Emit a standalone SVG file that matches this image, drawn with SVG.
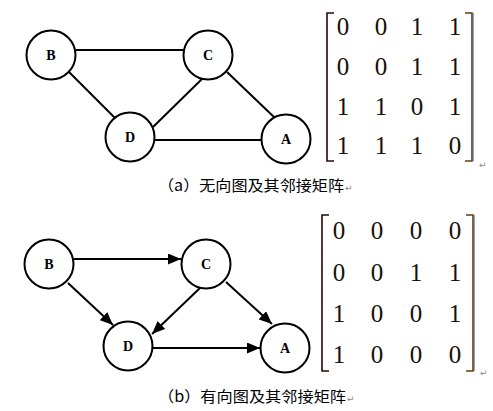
<svg xmlns="http://www.w3.org/2000/svg" width="493" height="411" viewBox="0 0 493 411">
<style>
.node circle{fill:#fff;stroke:#000;stroke-width:2}
.node text{font-family:"Liberation Serif",serif;font-weight:bold;font-size:14px;text-anchor:middle;dominant-baseline:central}
.edges line{stroke:#000;stroke-width:2}
.num{font-family:"Liberation Serif",serif;font-size:25px;fill:#1a1008;text-anchor:middle}
.cap{font-family:"Noto Sans CJK SC","Liberation Serif",sans-serif;font-size:15px;fill:#000}
.ret{font-family:"DejaVu Sans",sans-serif;font-size:9px;fill:#888}
.bl{fill:none;stroke:#2a0606;stroke-width:1.6}
.br{fill:none;stroke:#6a3a08;stroke-width:1.6}
</style>
<defs>
<marker id="ah" markerWidth="13" markerHeight="11" refX="13" refY="5.5" orient="auto" markerUnits="userSpaceOnUse">
<path d="M0,0 L13,5.5 L0,11 Z" fill="#000"/>
</marker>
</defs>
<!-- Graph (a) -->
<g class="edges" id="edges-a">
<line x1="76" y1="50" x2="184" y2="50"/>
<line x1="68" y1="71" x2="115" y2="118"/>
<line x1="202" y1="79" x2="153" y2="127"/>
<line x1="227" y1="72" x2="275" y2="118"/>
<line x1="154" y1="140" x2="262" y2="140"/>
</g>
<g class="node" id="a-B"><circle cx="51" cy="55" r="24.5"/><text x="51" y="55">B</text></g>
<g class="node" id="a-C"><circle cx="208" cy="55" r="24.5"/><text x="208" y="55">C</text></g>
<g class="node" id="a-D"><circle cx="130" cy="137" r="24.5"/><text x="130" y="137">D</text></g>
<g class="node" id="a-A"><circle cx="286" cy="139" r="24.5"/><text x="286" y="139">A</text></g>
<!-- Matrix (a) -->
<g id="matrix-a">
<path class="bl" d="M334,13 H327 V161 H334"/>
<path class="br" d="M465,13 H472 V161 H465"/>
<line x1="473.5" y1="13" x2="473.5" y2="161" stroke="#4a90e0" stroke-width="0.8"/>
<text class="num" x="343" y="35">0</text><text class="num" x="381" y="35">0</text><text class="num" x="417" y="35">1</text><text class="num" x="455" y="35">1</text>
<text class="num" x="343" y="75">0</text><text class="num" x="381" y="75">0</text><text class="num" x="417" y="75">1</text><text class="num" x="455" y="75">1</text>
<text class="num" x="343" y="115">1</text><text class="num" x="381" y="115">1</text><text class="num" x="417" y="115">0</text><text class="num" x="455" y="115">1</text>
<text class="num" x="343" y="154">1</text><text class="num" x="381" y="154">1</text><text class="num" x="417" y="154">1</text><text class="num" x="455" y="154">0</text>
<text class="ret" x="479" y="168">↵</text>
</g>
<text class="cap" x="158" y="191" textLength="186" lengthAdjust="spacingAndGlyphs">（a）无向图及其邻接矩阵</text>
<text class="ret" x="345" y="191">↵</text>
<!-- Graph (b) -->
<g class="edges" id="edges-b">
<line x1="74" y1="259" x2="181" y2="259" marker-end="url(#ah)"/>
<line x1="68" y1="283" x2="113" y2="325" marker-end="url(#ah)"/>
<line x1="200" y1="288" x2="152" y2="334" marker-end="url(#ah)"/>
<line x1="226" y1="282" x2="272" y2="324" marker-end="url(#ah)"/>
<line x1="153" y1="348" x2="260" y2="348" marker-end="url(#ah)"/>
</g>
<g class="node" id="b-B"><circle cx="49" cy="264" r="24.5"/><text x="49" y="264">B</text></g>
<g class="node" id="b-C"><circle cx="206" cy="264" r="24.5"/><text x="206" y="264">C</text></g>
<g class="node" id="b-D"><circle cx="128" cy="346" r="24.5"/><text x="128" y="346">D</text></g>
<g class="node" id="b-A"><circle cx="285" cy="348" r="24.5"/><text x="285" y="348">A</text></g>
<!-- Matrix (b) -->
<g id="matrix-b">
<path class="bl" d="M329,215 H322 V371 H329"/>
<path class="br" d="M466,215 H473 V371 H466"/>
<line x1="474.5" y1="215" x2="474.5" y2="371" stroke="#4a90e0" stroke-width="0.8"/>
<text class="num" x="339" y="239">0</text><text class="num" x="377" y="239">0</text><text class="num" x="416" y="239">0</text><text class="num" x="455" y="239">0</text>
<text class="num" x="339" y="281">0</text><text class="num" x="377" y="281">0</text><text class="num" x="416" y="281">1</text><text class="num" x="455" y="281">1</text>
<text class="num" x="339" y="322">1</text><text class="num" x="377" y="322">0</text><text class="num" x="416" y="322">0</text><text class="num" x="455" y="322">1</text>
<text class="num" x="339" y="363">1</text><text class="num" x="377" y="363">0</text><text class="num" x="416" y="363">0</text><text class="num" x="455" y="363">0</text>
<text class="ret" x="480" y="376">↵</text>
</g>
<text class="cap" x="158" y="402" textLength="188" lengthAdjust="spacingAndGlyphs">（b）有向图及其邻接矩阵</text>
<text class="ret" x="347" y="402">↵</text>
</svg>
